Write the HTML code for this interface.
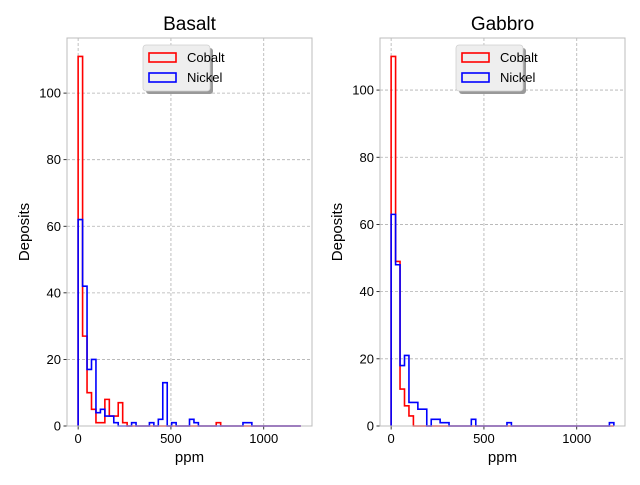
<!DOCTYPE html>
<html><head><meta charset="utf-8"><style>
body{margin:0;background:#fff}
svg text{font-family:"Liberation Sans","DejaVu Sans",sans-serif;fill:#000}
</style></head><body>
<svg id="c" width="640" height="480" xmlns="http://www.w3.org/2000/svg"></svg>
<script>
const binEdgesMax = 1200;
const nBins = 50;
const yTicks = [0,20,40,60,80,100];
const xTicks = [0,500,1000];
const seriesNames = ["Cobalt","Nickel"];
const seriesColors = ["#ff0000","#0000ff"];
const panelTitles = ["Basalt","Gabbro"];
const basaltCobalt = [111,27,10,5,1,1,8,3,3,7,1,0,0,0,0,0,0,0,0,0,0,0,0,0,0,0,0,0,0,0,0,1,0,0,0,0,0,0,0,0,0,0,0,0,0,0,0,0,0,0];
const basaltNickel = [62,42,17,20,4,5,3,3,1,0,0,0,1,0,0,0,1,0,2,13,0,1,0,0,0,2,1,0,0,0,0,0,0,0,0,0,0,1,1,0,0,0,0,0,0,0,0,0,0,0];
const gabbroCobalt = [110,49,11,6,3,0,0,0,0,0,0,0,0,0,0,0,0,0,0,0,0,0,0,0,0,0,0,0,0,0,0,0,0,0,0,0,0,0,0,0,0,0,0,0,0,0,0,0,0,0];
const gabbroNickel = [63,48,18,21,7,7,5,5,0,2,2,1,1,0,0,0,0,0,2,0,0,0,0,0,0,0,1,0,0,0,0,0,0,0,0,0,0,0,0,0,0,0,0,0,0,0,0,0,0,1];

const NS="http://www.w3.org/2000/svg";
const svg=document.getElementById('c');
function mk(tag,attrs,parent){const e=document.createElementNS(NS,tag);for(const k in attrs)e.setAttribute(k,attrs[k]);(parent||svg).appendChild(e);return e;}

const panels=[{x0:67,x1:312,data:[basaltCobalt,basaltNickel],name:'basalt'},{x0:380,x1:625,data:[gabbroCobalt,gabbroNickel],name:'gabbro'}];
const yTop=38,yBot=426;
panels.forEach((p,pi)=>{
  const g=mk('g',{});
  
  
  const allMax=Math.max(...p.data[0],...p.data[1]);
  const xmin=-0.05*binEdgesMax,xmax=1.05*binEdgesMax,ymax=allMax*1.05;
  const X=v=>p.x0+(v-xmin)/(xmax-xmin)*(p.x1-p.x0);
  const Y=v=>yBot-v/ymax*(yBot-yTop);
  // grid
  yTicks.forEach(t=>{const l=mk('line',{x1:p.x0,x2:p.x1,y1:Y(t),y2:Y(t),stroke:'#b0b0b0','stroke-width':0.8,'stroke-dasharray':'3,2'},g);
    
    const tk=mk('line',{x1:p.x0-3.5,x2:p.x0,y1:Y(t),y2:Y(t),stroke:'#000','stroke-width':0.8},g);
    
    const tx=mk('text',{x:p.x0-6,y:Y(t)+4.5,'text-anchor':'end','font-size':13},g);tx.textContent=t;
    });
  xTicks.forEach(t=>{const l=mk('line',{x1:X(t),x2:X(t),y1:yTop,y2:yBot,stroke:'#b0b0b0','stroke-width':0.8,'stroke-dasharray':'3,2'},g);
    
    const tk=mk('line',{x1:X(t),x2:X(t),y1:yBot,y2:yBot+3.5,stroke:'#000','stroke-width':0.8},g);
    
    const tx=mk('text',{x:X(t),y:yBot+17,'text-anchor':'middle','font-size':13},g);tx.textContent=t;
    });
  // series
  const bw=binEdgesMax/nBins;
  p.data.forEach((vals,si)=>{
    let d='M'+X(0)+','+Y(0);
    vals.forEach((v,i)=>{d+=' L'+X(i*bw)+','+Y(v)+' L'+X((i+1)*bw)+','+Y(v);});
    d+=' L'+X(binEdgesMax)+','+Y(0);
    const path=mk('path',{d:d,fill:'none',stroke:seriesColors[si],'stroke-width':1.6},g);
    
    
  });
  const fr=mk('rect',{x:p.x0,y:yTop,width:p.x1-p.x0,height:yBot-yTop,fill:'none',stroke:'#bcbcbc','stroke-width':1},g);
  
  const cx=(p.x0+p.x1)/2;
  const ti=mk('text',{x:cx,y:30,'text-anchor':'middle','font-size':19},g);ti.textContent=panelTitles[pi];
  
  const xl=mk('text',{x:cx,y:462,'text-anchor':'middle','font-size':15},g);xl.textContent='ppm';
  
  const yx=p.x0-38,yy=(yTop+yBot)/2;
  const yl=mk('text',{x:yx,y:yy,'text-anchor':'middle','font-size':15,transform:'rotate(-90 '+yx+' '+yy+')'},g);yl.textContent='Deposits';
  
  // legend
  const lx=p.x0+76,ly=45;
  const lg=mk('g',{},g);
  
  mk('rect',{x:lx+3,y:ly+3,width:67,height:46,rx:3,fill:'#999'},lg);
  mk('rect',{x:lx,y:ly,width:67,height:46,rx:3,fill:'#eeeeee',stroke:'#d0d0d0','stroke-width':0.8},lg);
  seriesNames.forEach((n,si)=>{
    const e=mk('g',{},lg);
    
    mk('rect',{x:lx+6,y:ly+8+si*20,width:27,height:9,fill:'none',stroke:seriesColors[si],'stroke-width':1.6},e);
    const t=mk('text',{x:lx+44,y:ly+17+si*20,'font-size':13},e);t.textContent=n;
  });
});
</script>
</body></html>
